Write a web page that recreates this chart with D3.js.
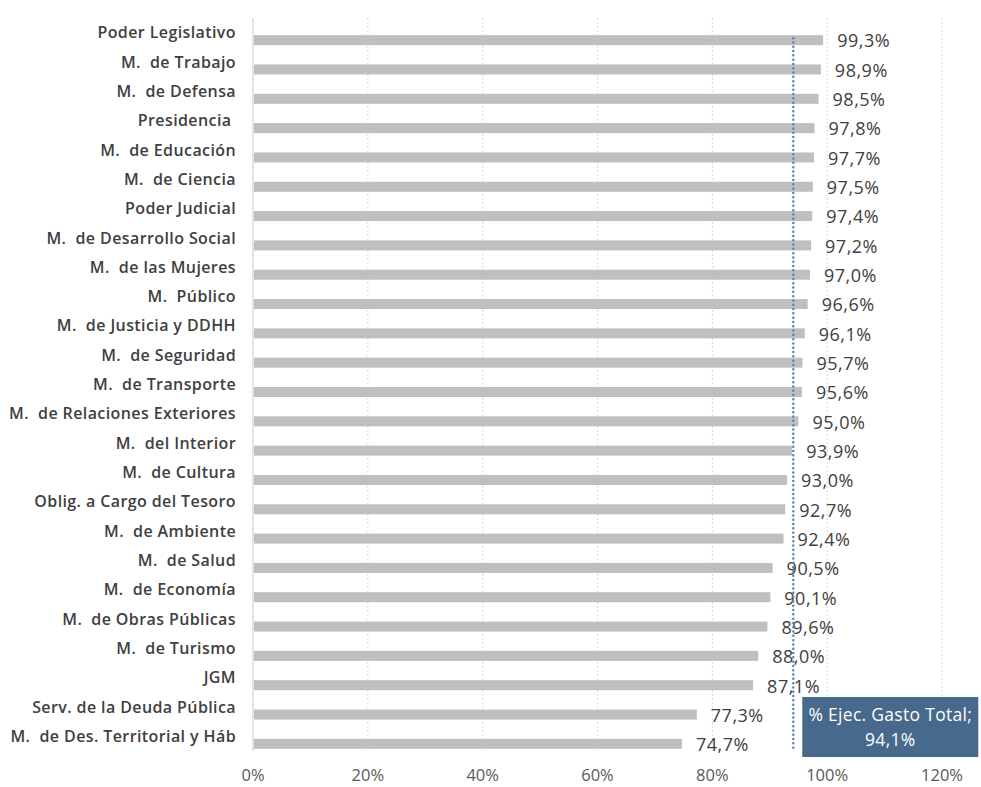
<html>
<head>
<script src="https://cdn.jsdelivr.net/npm/d3@7"></script>
<style>
  body { margin: 0; background: #fff; }
  text { font-family: "Open Sans", "Liberation Sans", sans-serif; }
</style>
</head>
<body>
<script>
const categories = [
  "Poder Legislativo", "M.  de Trabajo", "M.  de Defensa", "Presidencia ", "M.  de Educación",
  "M.  de Ciencia", "Poder Judicial", "M.  de Desarrollo Social", "M.  de las Mujeres", "M.  Público",
  "M.  de Justicia y DDHH", "M.  de Seguridad", "M.  de Transporte", "M.  de Relaciones Exteriores",
  "M.  del Interior", "M.  de Cultura", "Oblig. a Cargo del Tesoro", "M.  de Ambiente", "M.  de Salud",
  "M.  de Economía", "M.  de Obras Públicas", "M.  de Turismo", "JGM", "Serv. de la Deuda Pública",
  "M.  de Des. Territorial y Háb"
];
const execution = [
  99.3, 98.9, 98.5, 97.8, 97.7, 97.5, 97.4, 97.2, 97.0, 96.6, 96.1, 95.7, 95.6, 95.0,
  93.9, 93.0, 92.7, 92.4, 90.5, 90.1, 89.6, 88.0, 87.1, 77.3, 74.7
];
const totalExecution = 94.1;
const totalLabel = "% Ejec. Gasto Total;";
const xTicks = [0, 20, 40, 60, 80, 100, 120];

const width = 981, height = 787;
const fmt = v => d3.format(".1f")(v).replace(".", ",") + "%";

const svg = d3.select("body").append("svg")
    .attr("width", width)
    .attr("height", height);

const x = d3.scaleLinear().domain([0, 120]).range([253, 942]);
const y = d3.scaleBand().domain(categories).range([18, 751]);

// grid lines
svg.append("g")
    .selectAll("line")
    .data(xTicks.slice(1))
    .enter()
    .append("line")
    .attr("x1", d => x(d)).attr("x2", d => x(d))
    .attr("y1", y.range()[0]).attr("y2", y.range()[1])
    .attr("stroke", "#d9d9d9")
    .attr("stroke-width", 1)
    .attr("stroke-dasharray", "2,2");

// axis line
svg.append("line")
    .attr("x1", x(0)).attr("x2", x(0))
    .attr("y1", y.range()[0]).attr("y2", y.range()[1])
    .attr("stroke", "#d9d9d9")
    .attr("stroke-width", 1.5);

// bars
const barOffset = 2.5, barH = 10;
svg.append("g")
    .selectAll("rect")
    .data(categories)
    .enter()
    .append("rect")
    .attr("x", x(0) + 1)
    .attr("y", d => y(d) + y.bandwidth() / 2 + barOffset)
    .attr("width", (d, i) => x(execution[i]) - x(0) - 1)
    .attr("height", barH)
    .attr("fill", "#bfbfbf");

// category labels
svg.append("g")
    .selectAll("text")
    .data(categories)
    .enter()
    .append("text")
    .attr("x", 236)
    .attr("y", d => y(d) + y.bandwidth() / 2)
    .attr("dy", "0.35em")
    .attr("text-anchor", "end")
    .attr("fill", "#404040")
    .attr("font-size", 16)
    .attr("font-weight", 600)
    .attr("letter-spacing", 0.4)
    .style("white-space", "pre")
    .text(d => d);

// value labels
svg.append("g")
    .selectAll("text")
    .data(categories)
    .enter()
    .append("text")
    .attr("x", (d, i) => x(execution[i]) + 14)
    .attr("y", d => y(d) + y.bandwidth() / 2 + barOffset + barH / 2 + 1)
    .attr("dy", "0.35em")
    .attr("fill", "#404040")
    .attr("font-size", 18)
    .attr("letter-spacing", 0.5)
    .text((d, i) => fmt(execution[i]));

// x tick labels
svg.append("g")
    .selectAll("text")
    .data(xTicks)
    .enter()
    .append("text")
    .attr("x", d => x(d))
    .attr("y", 775)
    .attr("dy", "0.35em")
    .attr("text-anchor", "middle")
    .attr("fill", "#595959")
    .attr("font-size", 16.5)
    .text(d => d + "%");

// total execution line
const yTop = y(categories[0]) + y.bandwidth() / 2 + barOffset + 3;
const yBot = y(categories[categories.length - 1]) + y.bandwidth() / 2 + barOffset + barH;
svg.append("line")
    .attr("x1", x(totalExecution)).attr("x2", x(totalExecution))
    .attr("y1", yTop).attr("y2", yBot)
    .attr("stroke", "#5b84ad")
    .attr("stroke-width", 2.5)
    .attr("stroke-dasharray", "0,4.3")
    .attr("stroke-linecap", "round");

// total label box
const box = svg.append("g").attr("transform", `translate(${x(totalExecution) + 9},697)`);
box.append("rect")
    .attr("width", 176).attr("height", 60)
    .attr("fill", "#46698c");
box.append("text")
    .attr("x", 88).attr("y", 18)
    .attr("dy", "0.35em")
    .attr("text-anchor", "middle")
    .attr("fill", "#fff")
    .attr("font-size", 17.5)
    .attr("letter-spacing", 0.3)
    .text(totalLabel);
box.append("text")
    .attr("x", 88).attr("y", 43)
    .attr("dy", "0.35em")
    .attr("text-anchor", "middle")
    .attr("fill", "#fff")
    .attr("font-size", 17.5)
    .attr("letter-spacing", 0.3)
    .text(fmt(totalExecution));
</script>
</body>
</html>
